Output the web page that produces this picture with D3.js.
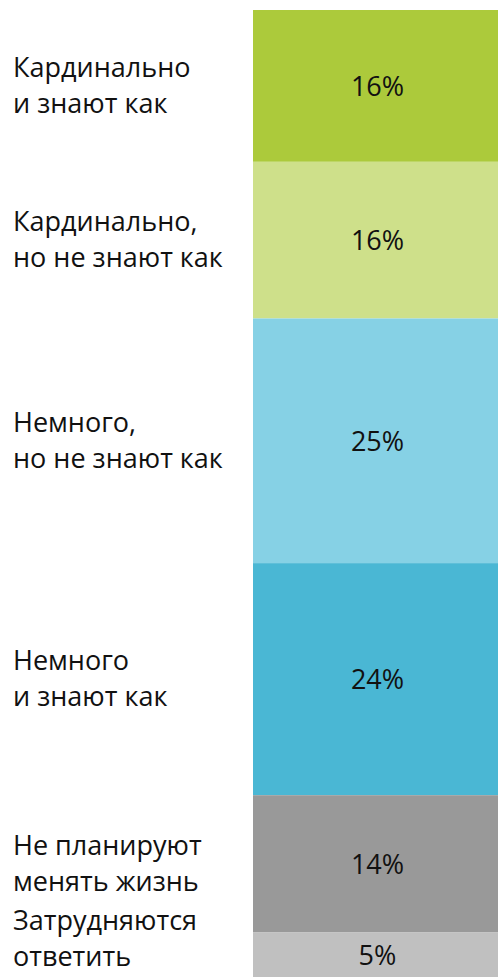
<!DOCTYPE html>
<html>
<head>
<meta charset="utf-8">
<script src="https://cdn.jsdelivr.net/npm/d3@7"></script>
<style>
  html, body { margin: 0; padding: 0; background: #ffffff; }
  svg text { font-family: "Open Sans", "Noto Sans", sans-serif; fill: #111111; }
</style>
</head>
<body>
<div id="chart"></div>
<script>
(function() {
    // data
    const categories = [
        ["Кардинально", "и знают как"],
        ["Кардинально,", "но не знают как"],
        ["Немного,", "но не знают как"],
        ["Немного", "и знают как"],
        ["Не планируют", "менять жизнь"],
        ["Затрудняются", "ответить"]
    ];
    const values = [15.7, 16.2, 25.3, 24.0, 14.2, 4.6];
    const colors = ["#acca3b", "#cee08a", "#86d1e5", "#4ab7d4", "#999999", "#c0c0c0"];

    const width = 498;
    const height = 977;
    const margin = { top: 10, bottom: 0 };
    const barX = 253;
    const lineGap = 36;
    const fontSize = 27;

    const svg = d3.select("#chart").append("svg")
        .attr("width", width)
        .attr("height", height);

    // stacked layout
    let acc = 0;
    const segs = values.map((v, i) => {
        const s = { i, v, y0: acc, y1: acc + v, label: categories[i], color: colors[i] };
        acc += v;
        return s;
    });

    const y = d3.scaleLinear()
        .domain([0, d3.sum(values)])
        .range([margin.top, height - margin.bottom]);

    svg.selectAll("rect.seg")
        .data(segs)
        .join("rect")
        .attr("class", "seg")
        .attr("x", barX)
        .attr("width", width - barX)
        .attr("y", d => y(d.y0))
        .attr("height", d => y(d.y1) - y(d.y0))
        .attr("fill", d => d.color);

    svg.selectAll("text.pct")
        .data(segs)
        .join("text")
        .attr("class", "pct")
        .attr("x", (barX + width) / 2 + 2)
        .attr("y", d => (y(d.y0) + y(d.y1)) / 2 + 10)
        .attr("text-anchor", "middle")
        .style("font-size", fontSize + "px")
        .text(d => Math.round(d.v) + "%");

    // left labels, centred on their segment, kept inside the picture
    const lab = svg.selectAll("text.cat")
        .data(segs)
        .join("text")
        .attr("class", "cat")
        .attr("x", 13)
        .style("font-size", fontSize + "px")
        .attr("y", d => {
            const mid = (y(d.y0) + y(d.y1)) / 2;
            return Math.min(mid, height - 20 - lineGap / 2);
        });

    lab.selectAll("tspan")
        .data(d => d.label.map((t, k) => ({ t, k, n: d.label.length })))
        .join("tspan")
        .attr("x", 13)
        .attr("dy", d => d.k === 0 ? (-(d.n - 1) / 2 * lineGap + 9) + "px" : lineGap + "px")
        .text(d => d.t);
})();
</script>
</body>
</html>
